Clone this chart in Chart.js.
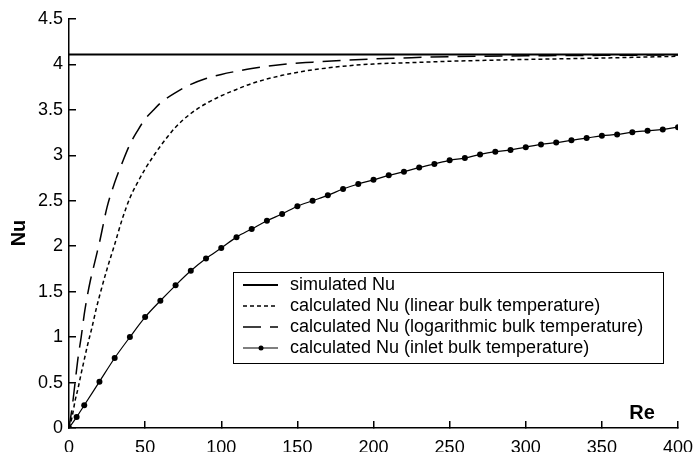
<!DOCTYPE html>
<html>
<head>
<meta charset="utf-8">
<script src="https://cdn.jsdelivr.net/npm/chart.js@4.4.0/dist/chart.umd.min.js"></script>
<style>
  html, body { margin: 0; padding: 0; background: #fff; }
  #wrap { width: 693px; height: 452px; }
</style>
</head>
<body>
<div id="wrap"><canvas id="chart" width="693" height="452"></canvas></div>
<script>
// axis ranges
const xMin = 0, xMax = 400, xStep = 50;
const yMin = 0, yMax = 4.5, yStep = 0.5;

// simulated Nu (constant)
const simulatedRe = [0, 400];
const simulatedNu = [4.11, 4.11];

// calculated Nu, linear bulk temperature
const linearRe = [0, 2, 4, 6, 8, 10, 12, 15, 18, 20, 25, 30, 35, 40, 45, 50, 55, 60, 65, 70, 80, 90, 100, 110, 120, 140, 160, 180, 200, 225, 250, 300, 350, 400];
const linearNu = [0, 0.12, 0.3, 0.44, 0.6, 0.75, 0.9, 1.1, 1.32, 1.45, 1.75, 2.02, 2.3, 2.53, 2.7, 2.85, 2.98, 3.1, 3.21, 3.31, 3.46, 3.57, 3.655, 3.725, 3.79, 3.88, 3.94, 3.98, 4.005, 4.02, 4.035, 4.055, 4.07, 4.09];

// calculated Nu, logarithmic bulk temperature
const logRe = [0, 2, 4, 6, 8, 10, 12, 14, 16, 18, 20, 25, 30, 35, 40, 45, 50, 55, 60, 70, 80, 90, 100, 110, 120, 140, 160, 180, 200, 225, 250, 300, 350, 400];
const logNu = [0, 0.22, 0.5, 0.78, 1.0, 1.25, 1.45, 1.62, 1.76, 1.9, 2.04, 2.43, 2.7, 2.92, 3.12, 3.27, 3.4, 3.49, 3.575, 3.69, 3.78, 3.845, 3.89, 3.925, 3.955, 4.0, 4.025, 4.045, 4.06, 4.075, 4.085, 4.095, 4.1, 4.105];

// calculated Nu, inlet bulk temperature (with markers)
const inletRe = [0, 5, 10, 20, 30, 40, 50, 60, 70, 80, 90, 100, 110, 120, 130, 140, 150, 160, 170, 180, 190, 200, 210, 220, 230, 240, 250, 260, 270, 280, 290, 300, 310, 320, 330, 340, 350, 360, 370, 380, 390, 400];
const inletNu = [0, 0.12, 0.25, 0.51, 0.77, 1.0, 1.22, 1.4, 1.57, 1.73, 1.865, 1.98, 2.1, 2.19, 2.28, 2.355, 2.44, 2.5, 2.56, 2.63, 2.685, 2.73, 2.78, 2.82, 2.865, 2.905, 2.945, 2.97, 3.01, 3.04, 3.06, 3.09, 3.12, 3.14, 3.165, 3.19, 3.215, 3.23, 3.255, 3.27, 3.285, 3.31];

const toPoints = (xs, ys) => xs.map((x, i) => ({ x, y: ys[i] }));

const FONT = '"Liberation Sans", Arial, sans-serif';

const axisTitles = {
  id: 'axisTitles',
  afterDraw(chart) {
    const ctx = chart.ctx;
    ctx.save();
    ctx.fillStyle = '#000';
    ctx.font = 'bold 20px ' + FONT;
    ctx.textAlign = 'center';
    ctx.textBaseline = 'middle';
    ctx.fillText('Re', 642, 413);
    ctx.translate(19, 233);
    ctx.rotate(-Math.PI / 2);
    ctx.fillText('Nu', 0, 0);
    ctx.restore();
  }
};

const boxLegend = {
  id: 'boxLegend',
  afterDraw(chart) {
    const ctx = chart.ctx;
    ctx.save();
    ctx.fillStyle = '#fff';
    ctx.fillRect(233, 272, 430, 91);
    ctx.strokeStyle = '#000';
    ctx.lineWidth = 1;
    ctx.strokeRect(233.5, 272.5, 430, 91);

    chart.data.datasets.forEach((ds, i) => {
      const y = 285 + i * 21;
      ctx.beginPath();
      ctx.setLineDash(ds.borderDash || []);
      ctx.lineWidth = ds.borderWidth;
      ctx.strokeStyle = '#000';
      ctx.moveTo(243, y);
      ctx.lineTo(278, y);
      ctx.stroke();
      ctx.setLineDash([]);
      if (ds.pointRadius > 0) {
        ctx.beginPath();
        ctx.fillStyle = '#000';
        ctx.arc(261, y, 2.5, 0, Math.PI * 2);
        ctx.fill();
      }
      ctx.fillStyle = '#000';
      ctx.font = '18px ' + FONT;
      ctx.textAlign = 'left';
      ctx.textBaseline = 'middle';
      ctx.fillText(ds.label, 290, y);
    });
    ctx.restore();
  }
};

// tick marks point into the plot (negative tickLength)
const tickGrid = {
  display: true,
  drawOnChartArea: false,
  drawTicks: true,
  tickLength: -7,
  color: '#000',
  lineWidth: 1.5
};

new Chart(document.getElementById('chart'), {
  type: 'line',
  data: {
    datasets: [
      {
        label: 'simulated Nu',
        data: toPoints(simulatedRe, simulatedNu),
        borderColor: '#000',
        borderWidth: 2,
        pointRadius: 0
      },
      {
        label: 'calculated Nu (linear bulk temperature)',
        data: toPoints(linearRe, linearNu),
        borderColor: '#000',
        borderWidth: 1.5,
        borderDash: [4, 3],
        pointRadius: 0,
        cubicInterpolationMode: 'monotone'
      },
      {
        label: 'calculated Nu (logarithmic bulk temperature)',
        data: toPoints(logRe, logNu),
        borderColor: '#000',
        borderWidth: 1.5,
        borderDash: [18, 9],
        pointRadius: 0,
        cubicInterpolationMode: 'monotone'
      },
      {
        label: 'calculated Nu (inlet bulk temperature)',
        data: toPoints(inletRe, inletNu),
        borderColor: '#000',
        backgroundColor: '#000',
        borderWidth: 1.2,
        pointRadius: 3,
        pointBorderWidth: 0,
        cubicInterpolationMode: 'monotone'
      }
    ]
  },
  options: {
    responsive: false,
    animation: false,
    layout: { padding: { left: 0, top: 19, right: 0, bottom: 0 } },
    plugins: {
      legend: { display: false },
      tooltip: { enabled: false }
    },
    scales: {
      x: {
        type: 'linear',
        min: xMin,
        max: xMax,
        grid: tickGrid,
        border: { display: true, color: '#000', width: 1.5 },
        ticks: {
          stepSize: xStep,
          padding: 16,
          color: '#000',
          maxRotation: 0,
          font: { family: FONT, size: 18 }
        },
        afterFit: s => { s.height = 24; s.paddingRight = 15; s.paddingLeft = 0; }
      },
      y: {
        min: yMin,
        max: yMax,
        grid: tickGrid,
        border: { display: true, color: '#000', width: 1.5 },
        ticks: {
          stepSize: yStep,
          padding: 13,
          color: '#000',
          font: { family: FONT, size: 18 },
          callback: v => String(v)
        },
        afterFit: s => { s.width = 69; s.paddingTop = 0; s.paddingBottom = 0; }
      }
    }
  },
  plugins: [axisTitles, boxLegend]
});
</script>
</body>
</html>
